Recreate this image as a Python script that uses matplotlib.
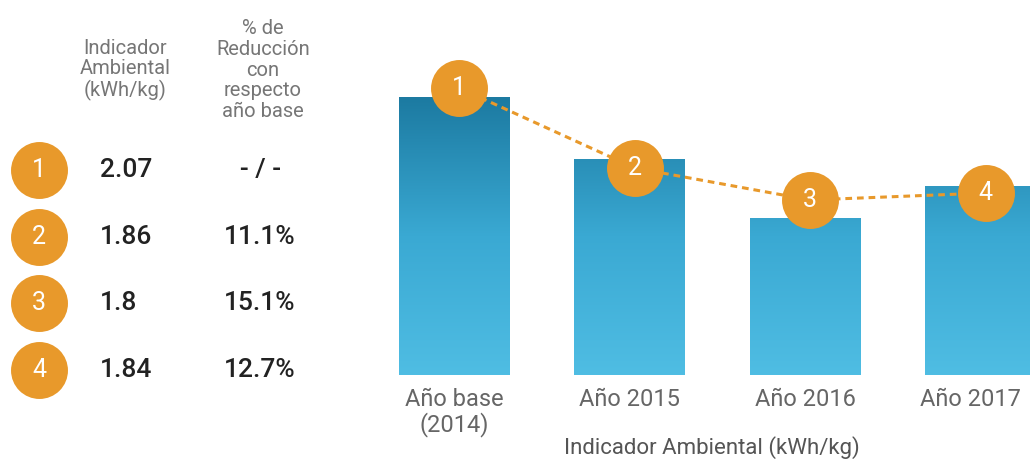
import numpy as np
import matplotlib
matplotlib.use('Agg')
import matplotlib.pyplot as plt
import matplotlib.transforms as mtransforms
from matplotlib.colors import LinearSegmentedColormap

plt.rcParams['font.family'] = ['Roboto', 'DejaVu Sans']

# ---------------- data ----------------
categories = ['Año base\n(2014)', 'Año 2015', 'Año 2016', 'Año 2017']
indicador = ['2.07', '1.86', '1.8', '1.84']
reduccion = ['- / -', '11.1%', '15.1%', '12.7%']
point_labels = ['1', '2', '3', '4']
bar_heights = [2.78, 2.16, 1.57, 1.89]      # bar heights as drawn in the picture
marker_heights = [2.87, 2.07, 1.75, 1.82]   # circle positions as drawn
header_ind = 'Indicador\nAmbiental\n(kWh/kg)'
header_red = '% de\nReducción\ncon\nrespecto\naño base'
xlabel = 'Indicador Ambiental (kWh/kg)'

# ---------------- style ----------------
ORANGE = '#E8992B'
GREY = '#767676'
LABEL_GREY = '#666666'
DARK = '#222222'
W, H = 1030, 459

fig = plt.figure(figsize=(W / 100, H / 100), dpi=100)
fig.patch.set_facecolor('white')

# ---------------- left table ----------------
tab = fig.add_axes([0, 0, 360 / W, 1])
tab.set_xlim(0, 360)
tab.set_ylim(H, 0)
tab.axis('off')

tab.text(125, 70, header_ind, ha='center', va='center', multialignment='center',
         fontsize=14.5, color=GREY, linespacing=1.12)
tab.text(263, 70, header_red, ha='center', va='center', multialignment='center',
         fontsize=14.5, color=GREY, linespacing=1.12)

rows_y = 170 + np.arange(len(indicador)) * 66.7
tab.plot(np.full(len(rows_y), 39), rows_y, ls='none', marker='o', ms=41,
         mfc=ORANGE, mec='none')
for yy, lab, v, r in zip(rows_y, point_labels, indicador, reduccion):
    tab.text(39, yy, lab, ha='center', va='center', color='white', fontsize=18)
    tab.text(100, yy, v, ha='left', va='center', color=DARK, fontsize=19,
             fontweight='medium')
    tab.text(260, yy, r, ha='center', va='center', color=DARK, fontsize=19,
             fontweight='medium')

# ---------------- bar chart ----------------
x = np.arange(len(categories))
unit = 175.5                      # px per category
x0_px = 454.0                     # first bar centre in px
xmin, xmax = -0.5, 3.33
left_px = x0_px + xmin * unit
right_px = x0_px + xmax * unit
ax = fig.add_axes([left_px / W, 84 / H, (right_px - left_px) / W, 375 / H])
ax.patch.set_alpha(0)

cmap = LinearSegmentedColormap.from_list('bars', ['#4FBDE3', '#3AA9D3', '#1C7AA1'])
grad = np.linspace(0, 1, 256).reshape(-1, 1)
top = max(bar_heights)

bars = ax.bar(x, bar_heights, width=0.63, color='none', edgecolor='none')
for b in bars:
    im = ax.imshow(grad, extent=[b.get_x(), b.get_x() + b.get_width(), 0, top],
                   origin='lower', aspect='auto', cmap=cmap, zorder=1)
    im.set_clip_path(b)

mx = x + 0.03
ax.plot(mx, marker_heights, color=ORANGE, lw=2.2, dashes=(2.2, 1.6), zorder=3)
ax.plot(mx, marker_heights, ls='none', marker='o', ms=41, mfc=ORANGE, mec='none',
        zorder=4, clip_on=False)
for xx, yy, lab in zip(mx, marker_heights, point_labels):
    ax.text(xx, yy, lab, ha='center', va='center', color='white', fontsize=18, zorder=5)

ax.set_xlim(xmin, xmax)
ax.set_ylim(0, 3.75)
ax.set_xticks(x)
ax.set_xticklabels(categories, fontsize=17, color=LABEL_GREY, linespacing=1.1)
ax.tick_params(axis='x', length=0, pad=9)
# nudge the last label left so it stays inside the figure (as in the reference)
last = ax.get_xticklabels()[-1]
last.set_transform(last.get_transform() +
                   mtransforms.ScaledTranslation(-10 / 100, 0, fig.dpi_scale_trans))
ax.set_yticks([])
for s in ax.spines.values():
    s.set_visible(False)

fig.text(712 / W, 1 - 448 / H, xlabel, ha='center', va='center',
         fontsize=16, color='#555555')

fig.savefig('out.png', dpi=100, facecolor='white')
